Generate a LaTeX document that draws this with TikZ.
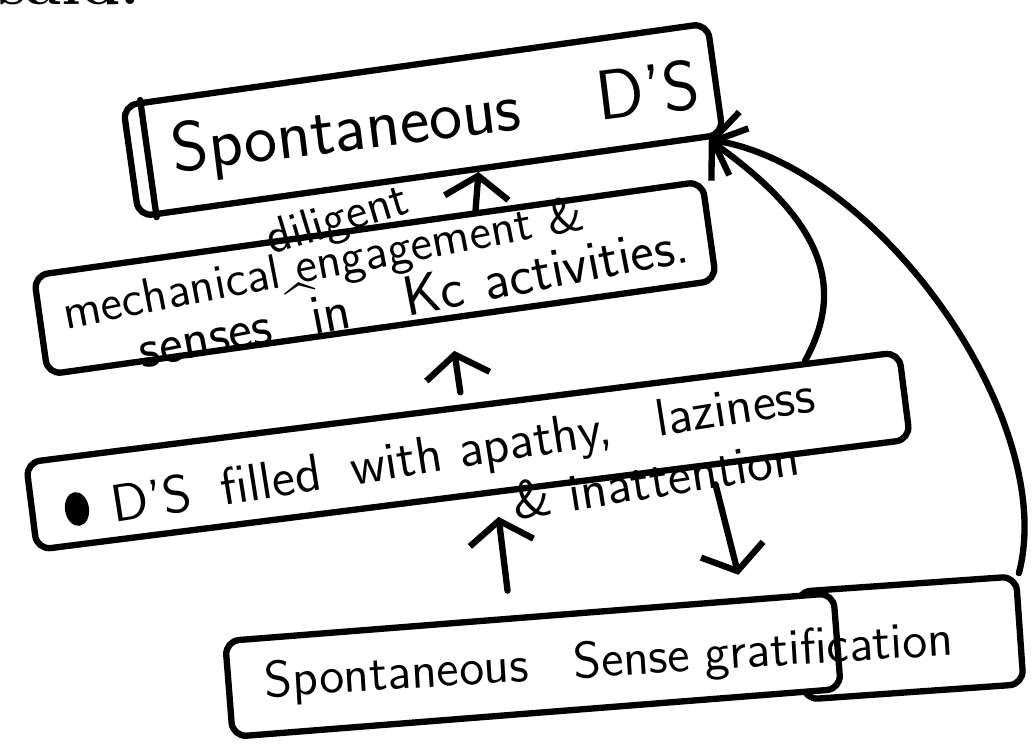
\documentclass[tikz,border=0pt]{standalone}
\usepackage{fontspec}
\usetikzlibrary{arrows.meta,calc}

\begin{document}
\begin{tikzpicture}[
  pen/.style={line width=1.8pt, line cap=round, line join=round},
  box/.style={pen, draw, rectangle, rounded corners=4pt, fill=white, inner sep=0pt},
  hand/.style={inner sep=0pt, font=\sffamily\fontsize{#1}{#1}\selectfont},
  wire/.style={pen, -{Straight Barb[length=2.2mm, width=6.4mm]}}
]
\useasboundingbox (0,0) rectangle (10.36,-7.44);

% Tail of the line above
\node[inner sep=0pt, anchor=south west, font=\rmfamily\bfseries\fontsize{18}{20}\selectfont] (said) at (-0.02,-0.06) {said.};

% Boxes
\node[box, rotate=8, minimum width=5.9cm, minimum height=1.12cm] (ds1) at (4.23,-1.20) {};
\node[box, rotate=8, minimum width=6.75cm, minimum height=1.0cm] (mech) at (3.75,-2.78) {};
\node[box, rotate=7.2, minimum width=8.8cm, minimum height=0.88cm] (ds2) at (4.68,-4.51) {};
\node[box, rotate=4, minimum width=2.2cm, minimum height=1.08cm] (sg2) at (9.10,-6.38) {};
\node[box, rotate=4.5, minimum width=6.1cm, minimum height=0.96cm] (sg) at (5.33,-6.65) {};

% Second stroke on the left of the top box
\draw[pen] ($(ds1.north west)!0.035!(ds1.north east)$) -- ($(ds1.south west)!0.035!(ds1.south east)$);

% Texts
\node[hand=20, rotate=7] (ds1t) at (4.36,-1.22) {Spontaneous\hspace{1.1em}D'S};
\node[hand=14, rotate=11, anchor=north west, align=left] (mecht) at (0.59,-2.94)
  {mechanical engagement \&\\[1pt]
   {\fontsize{16}{16}\selectfont\hspace*{0.67cm}senses\hspace{0.4cm}in\hspace{0.55cm}Kc\hspace{0.22cm}activities.}};
\node[hand=14, rotate=17] (dil) at (3.38,-2.22) {diligent};
\node[hand=16, rotate=10] (caret) at (3.02,-3.03) {\textasciicircum};
\fill[rotate around={9:(0.77,-5.09)}] (0.77,-5.09) ellipse (0.12cm and 0.17cm);
\node[hand=15, rotate=9, anchor=north west, align=right] (ds2t) at (1.08,-4.85)
  {D'S\hspace{0.3cm}filled\hspace{0.3cm}with apathy,\hspace{0.45cm}laziness\\[2pt]\& inattention\hspace*{0.25cm}};
\node[hand=14.5, rotate=3.5] (sgt) at (6.09,-6.63) {Spontaneous\hspace{0.45cm}Sense\hspace{0.15cm}gratification};

% Arrows
\draw[wire] ($(mech.north west)!0.66!(mech.north east)$) -- ($(ds1.south west)!0.58!(ds1.south east)$);
\draw[wire, shorten <=0.12cm, shorten >=0.3cm] ($(ds2.north west)!0.5!(ds2.north east)$) -- ($(mech.south west)!0.6!(mech.south east)$);
\draw[wire, shorten <=0.25cm, shorten >=0.22cm] ($(sg.north west)!0.47!(sg.north east)$) -- ($(ds2.south west)!0.525!(ds2.south east)$);
\draw[wire, shorten <=0.17cm, shorten >=0.23cm] ($(ds2.south west)!0.77!(ds2.south east)$) -- ($(sg.north west)!0.85!(sg.north east)$);

\coordinate (ds1in) at ($(ds1.south west)!0.97!(ds1.south east)$);
\draw[wire] ($(ds2.north west)!0.89!(ds2.north east)$) .. controls +(0.37,0.67) and +(1.23,-0.87) .. (ds1in);
\draw[wire] (sg2.north east) .. controls +(0.40,1.52) and +(1.70,-0.27) .. (ds1in);

\end{tikzpicture}
\end{document}
